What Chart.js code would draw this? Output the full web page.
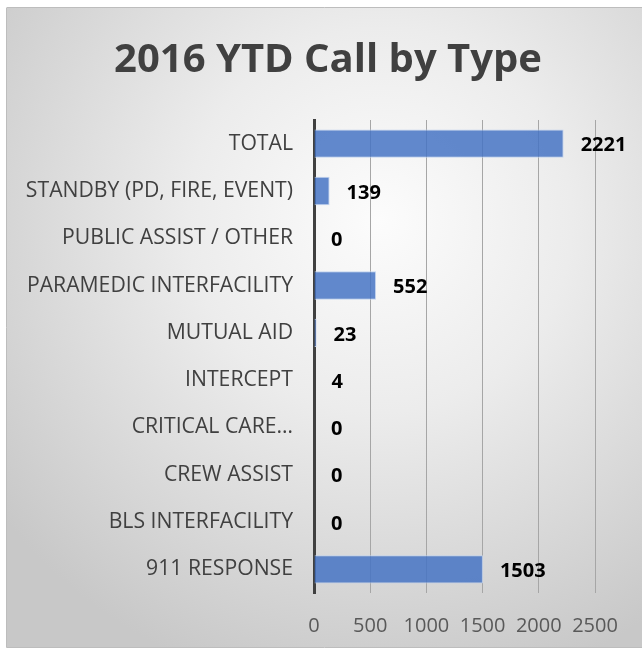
<!DOCTYPE html>
<html>
<head>
<meta charset="utf-8">
<script src="https://cdn.jsdelivr.net/npm/chart.js@4"></script>
<style>
html,body{margin:0;padding:0;background:#fff;}
#wrap{width:642px;height:649px;position:relative;}
</style>
</head>
<body>
<div id="wrap"><canvas id="chart" width="642" height="649"></canvas></div>
<script>
const chartTitle = '2016 YTD Call by Type';

const callTypes = [
'TOTAL',
'STANDBY (PD, FIRE, EVENT)',
'PUBLIC ASSIST / OTHER',
'PARAMEDIC INTERFACILITY',
'MUTUAL AID',
'INTERCEPT',
'CRITICAL CARE…',
'CREW ASSIST',
'BLS INTERFACILITY',
'911 RESPONSE'
];

const callCounts = [2221,139,0,552,23,4,0,0,0,1503];

const xTicks = [0,500,1000,1500,2000,2500];

// frame + radial background + title
const backdrop = {
id:'backdrop',
beforeDraw(chart){
const ctx = chart.ctx;
ctx.save();
ctx.fillStyle = '#ffffff';
ctx.fillRect(0,0,chart.width,chart.height);
const g = ctx.createRadialGradient(380,220,0,380,220,480);
g.addColorStop(0,'#fcfcfc');
g.addColorStop(0.4,'#ececec');
g.addColorStop(1,'#c8c8c8');
ctx.fillStyle = g;
ctx.fillRect(7,8,chart.width-7,639);
ctx.strokeStyle = '#bdbdbd';
ctx.lineWidth = 1;
ctx.beginPath();
ctx.moveTo(6.5,8);
ctx.lineTo(6.5,647.5);
ctx.lineTo(chart.width,647.5);
ctx.moveTo(6.5,7.5);
ctx.lineTo(chart.width,7.5);
ctx.stroke();

ctx.fillStyle = '#404040';
ctx.font = 'bold 40px "Open Sans"';
ctx.textAlign = 'center';
ctx.textBaseline = 'middle';
ctx.fillText(chartTitle,328,61);
ctx.restore();
}
};

const valueLabels = {
id:'valueLabels',
afterDatasetsDraw(chart){
const ctx = chart.ctx;
const meta = chart.getDatasetMeta(0);
ctx.save();
ctx.fillStyle = '#000000';
ctx.font = 'bold 20px "Open Sans"';
ctx.textAlign = 'left';
ctx.textBaseline = 'middle';
meta.data.forEach((bar,i)=>{
ctx.fillText(String(callCounts[i]),bar.x+17,bar.y+2);
});
ctx.restore();
}
};

new Chart(document.getElementById('chart'),{
type:'bar',
data:{
labels:callTypes,
datasets:[{
data:callCounts,
backgroundColor:'rgba(68,114,196,0.84)',
borderColor:'rgba(190,208,238,0.9)',
borderWidth:1,
categoryPercentage:1,
barPercentage:0.6
}]
},
options:{
indexAxis:'y',
responsive:false,
animation:false,
layout:{
padding:{left:7,right:47,top:120,bottom:0}
},
plugins:{
legend:{display:false},
title:{display:false},
tooltip:{enabled:false}
},
scales:{
x:{
min:0,
max:2500,
afterBuildTicks(scale){
scale.ticks = xTicks.map(v=>({value:v}));
},
afterFit(scale){
scale.height = 56;
},
grid:{
color:'#a6a6a6',
lineWidth:1,
drawTicks:false
},
border:{display:false},
ticks:{
color:'#595959',
padding:21,
callback:(v)=>String(v),
font:{family:'Open Sans',size:20}
}
},
y:{
afterFit(scale){
scale.width = 307;
},
grid:{display:false,drawTicks:false},
border:{display:true,color:'#404040',width:3},
ticks:{
color:'#404040',
padding:21,
autoSkip:false,
font:{family:'Open Sans',size:21.2}
}
}
}
},
plugins:[backdrop,valueLabels]
});
</script>
</body>
</html>
